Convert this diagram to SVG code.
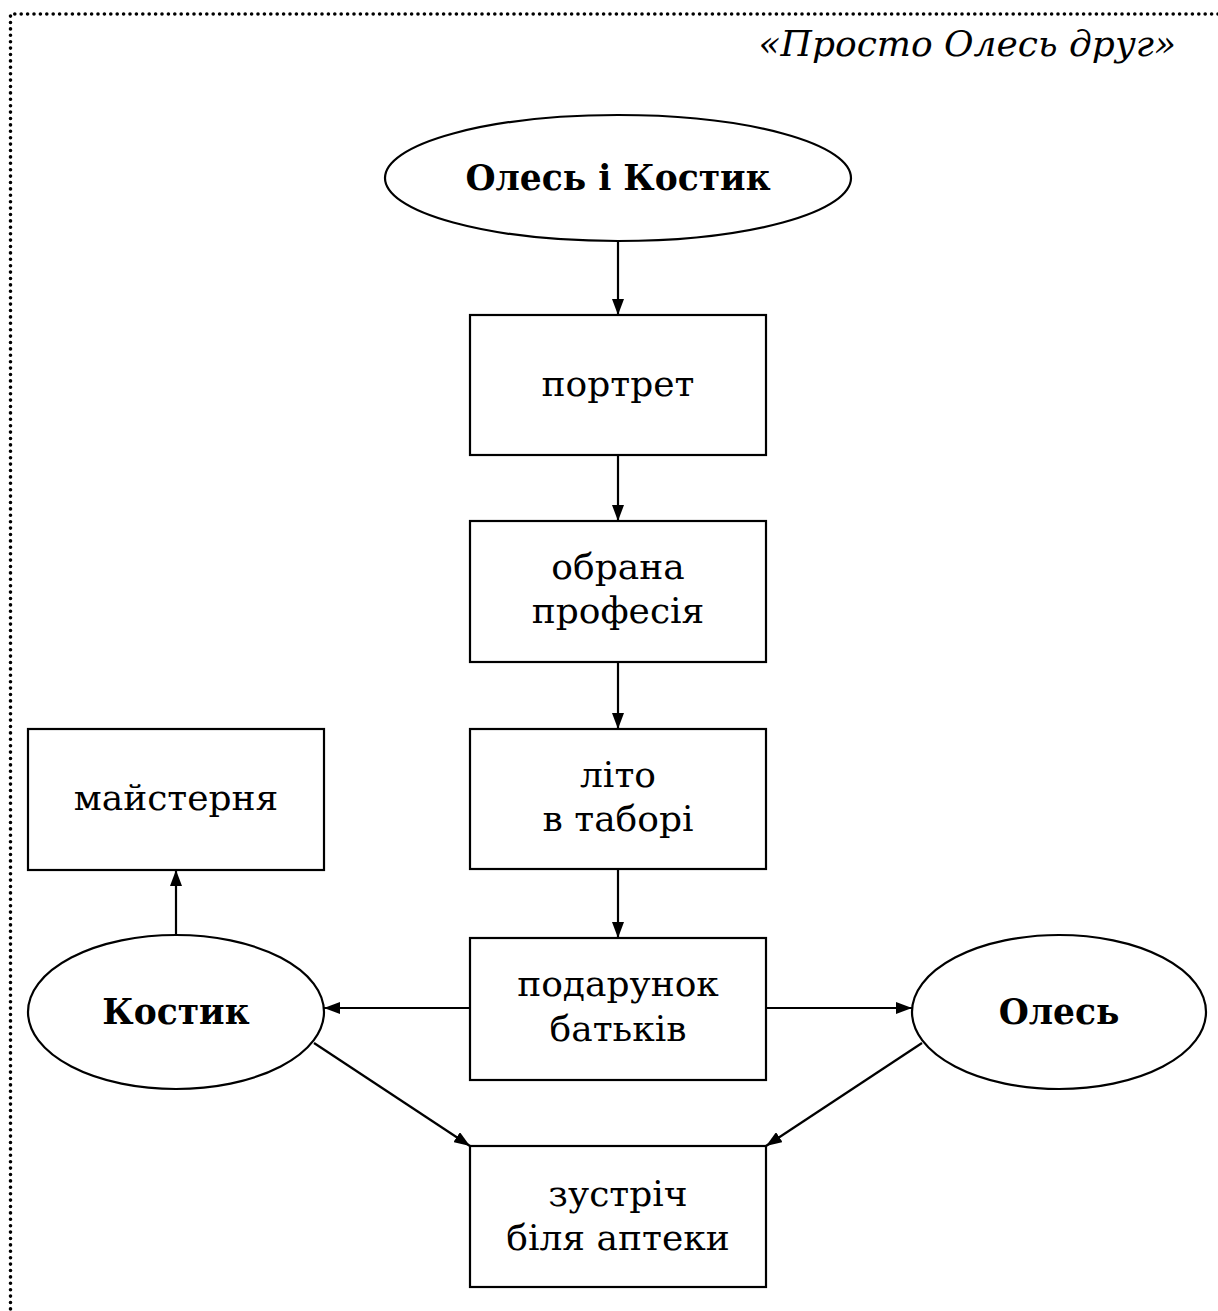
<svg xmlns="http://www.w3.org/2000/svg" width="1218" height="1311" viewBox="0 0 1218 1311">
<style>
.n{fill:#fff;stroke:#000;stroke-width:2.2}
.t{font-family:"DejaVu Serif","Liberation Serif",serif;font-size:36px;text-anchor:middle;fill:#000}
.b{font-weight:bold;font-size:34.5px}
.c{stroke:#000;stroke-width:2.2;fill:none;marker-end:url(#ah)}
.dot{stroke:#000;stroke-width:3.6;stroke-linecap:round;stroke-dasharray:0 6.4;fill:none}
</style>
<defs>
<marker id="ah" markerWidth="16" markerHeight="12" refX="16" refY="6" orient="auto" markerUnits="userSpaceOnUse">
<path d="M0,0 L16,6 L0,12 Z" fill="#000"/>
</marker>
</defs>
<rect width="1218" height="1311" fill="#fff"/>
<path class="dot" d="M1218,14 H10.5 V1311"/>
<text x="1176" y="56" style="font-family:'DejaVu Serif','Liberation Serif',serif;font-style:italic;font-size:36px;text-anchor:end">«Просто Олесь друг»</text>
<g id="connectors">
<line class="c" x1="618" y1="241" x2="618" y2="315"/>
<line class="c" x1="618" y1="455" x2="618" y2="521"/>
<line class="c" x1="618" y1="662" x2="618" y2="729"/>
<line class="c" x1="618" y1="869" x2="618" y2="938"/>
<line class="c" x1="470" y1="1008" x2="324" y2="1008"/>
<line class="c" x1="766" y1="1008" x2="912" y2="1008"/>
<line class="c" x1="176" y1="935" x2="176" y2="870"/>
<line class="c" x1="314" y1="1043" x2="470" y2="1146"/>
<line class="c" x1="922" y1="1043" x2="766" y2="1146"/>
</g>
<g id="n1"><ellipse class="n" cx="618" cy="178" rx="233" ry="63"/><text class="t b" x="618" y="190">Олесь і Костик</text></g>
<g id="n2"><rect class="n" x="470" y="315" width="296" height="140"/><text class="t" x="618" y="396">портрет</text></g>
<g id="n3"><rect class="n" x="470" y="521" width="296" height="141"/><text class="t" x="618" y="579">обрана</text><text class="t" x="618" y="623">професія</text></g>
<g id="n4"><rect class="n" x="470" y="729" width="296" height="140"/><text class="t" x="618" y="787">літо</text><text class="t" x="618" y="831">в таборі</text></g>
<g id="n5"><rect class="n" x="470" y="938" width="296" height="142"/><text class="t" x="618" y="996">подарунок</text><text class="t" x="618" y="1041">батьків</text></g>
<g id="n6"><rect class="n" x="28" y="729" width="296" height="141"/><text class="t" x="176" y="810">майстерня</text></g>
<g id="n7"><ellipse class="n" cx="176" cy="1012" rx="148" ry="77"/><text class="t b" x="176" y="1024">Костик</text></g>
<g id="n8"><ellipse class="n" cx="1059" cy="1012" rx="147" ry="77"/><text class="t b" x="1059" y="1024">Олесь</text></g>
<g id="n9"><rect class="n" x="470" y="1146" width="296" height="141"/><text class="t" x="618" y="1206">зустріч</text><text class="t" x="618" y="1250">біля аптеки</text></g>
</svg>
